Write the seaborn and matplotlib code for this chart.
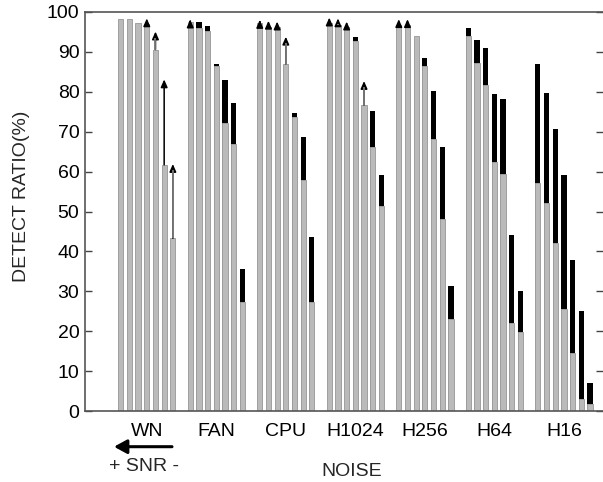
import numpy as np
import pandas as pd
import matplotlib
matplotlib.use("Agg")
import matplotlib.pyplot as plt
import seaborn as sns

# ---- data ----
groups = ["WN", "FAN", "CPU", "H1024", "H256", "H64", "H16"]
nan = np.nan

# gray (base) bar heights per group, 7 SNR levels each
gray_wn    = [98.2, 98.2, 97.3, 97.0, 90.6, 61.7, 43.3]
gray_fan   = [97.4, 96.1, 95.2, 86.5, 72.1, 66.9, 27.2]
gray_cpu   = [97.3, 96.3, 96.3, 87.0, 73.8, 57.9, 27.2]
gray_h1024 = [97.2, 96.7, 96.2, 92.8, 76.7, 66.2, 51.5]
gray_h256  = [96.7, 96.7, 94.1, 86.5, 68.1, 48.1, 23.1]
gray_h64   = [94.1, 87.1, 81.7, 62.3, 59.4, 22.0, 19.9]
gray_h16   = [57.1, 52.1, 42.0, 25.5, 14.5, 3.1, 1.8]

# top of black (stacked) segment; nan = no black segment
top_wn    = [nan, nan, nan, nan, nan, nan, nan]
top_fan   = [nan, 97.5, 96.5, 86.9, 83.0, 77.1, 35.5]
top_cpu   = [nan, nan, nan, nan, 74.6, 68.7, 43.7]
top_h1024 = [nan, nan, nan, 93.7, nan, 75.2, 59.1]
top_h256  = [nan, nan, nan, 88.5, 80.2, 66.2, 31.3]
top_h64   = [95.9, 93.0, 91.1, 79.4, 78.2, 44.1, 30.1]
top_h16   = [86.9, 79.6, 70.8, 59.1, 37.8, 25.1, 7.1]

# arrow target values; nan = no arrow
arr_wn    = [nan, nan, nan, 98.4, 95.1, 83.1, 61.9]
arr_fan   = [98.1, nan, nan, nan, nan, nan, nan]
arr_cpu   = [98.0, 97.8, 97.6, 93.8, nan, nan, nan]
arr_h1024 = [98.6, 98.4, 97.6, nan, 82.7, nan, nan]
arr_h256  = [98.2, 98.2, nan, nan, nan, nan, nan]
arr_h64   = [nan] * 7
arr_h16   = [nan] * 7

gray_all = [gray_wn, gray_fan, gray_cpu, gray_h1024, gray_h256, gray_h64, gray_h16]
top_all = [top_wn, top_fan, top_cpu, top_h1024, top_h256, top_h64, top_h16]
arr_all = [arr_wn, arr_fan, arr_cpu, arr_h1024, arr_h256, arr_h64, arr_h16]

rows = []
for g, name in enumerate(groups):
    for j in range(7):
        t = top_all[g][j]
        rows.append(dict(group=name, pos=g * 8 + j, gray=gray_all[g][j],
                         top=0.0 if np.isnan(t) else t, arrow=arr_all[g][j]))
df = pd.DataFrame(rows)

# ---- style ----
sns.set_theme(style="white")
plt.rcParams["font.family"] = ["Liberation Sans", "DejaVu Sans"]
FS = 14

W, H = 603, 482
fig = plt.figure(figsize=(W / 100, H / 100), dpi=100)
ax = fig.add_axes([85 / W, 1 - 411 / H, (W - 85) / W, (411 - 12) / H])

sns.barplot(data=df, x="pos", y="top", native_scale=True, width=0.6,
            color="black", edgecolor="black", linewidth=0, saturation=1,
            errorbar=None, ax=ax)
sns.barplot(data=df, x="pos", y="gray", native_scale=True, width=0.6,
            color="#bababa", edgecolor="#a0a0a0", linewidth=0.7, saturation=1,
            errorbar=None, ax=ax)

HEAD = 1.5  # head length in data units (approx, for shaft overlay)
for _, r in df.iterrows():
    if not np.isnan(r["arrow"]):
        ax.annotate("", xy=(r["pos"], r["arrow"]), xytext=(r["pos"], r["gray"]),
                    arrowprops=dict(arrowstyle="-|>,head_length=0.5,head_width=0.22",
                                    color="black", lw=1.1,
                                    shrinkA=0, shrinkB=0, mutation_scale=9),
                    zorder=5)
        black_shaft = (r["group"] == "WN" and r["pos"] == 5)
        if not black_shaft and r["arrow"] - HEAD > r["gray"]:
            ax.vlines(r["pos"], r["gray"], r["arrow"] - HEAD, color="#7a7a7a",
                      lw=1.3, zorder=6)

ax.set_xlim(-4.11, 55.5)
ax.set_ylim(0, 100)
ax.set_xticks([g * 8 + 3 for g in range(len(groups))])
ax.set_xticklabels(groups, fontsize=FS)
ax.set_yticks(range(0, 101, 10))
ax.set_yticklabels([str(v) for v in range(0, 101, 10)], fontsize=FS)
ax.set_xlabel("")
ax.set_ylabel("")
ax.tick_params(axis="x", length=0, pad=8.5, colors="black")
ax.tick_params(axis="y", direction="in", length=4.8, width=1, color="#444444",
               left=True, right=True, pad=4, labelcolor="black")
for s in ["left", "bottom", "top"]:
    ax.spines[s].set_visible(True)
    ax.spines[s].set_color("#555555")
    ax.spines[s].set_linewidth(1.2)
ax.spines["right"].set_visible(False)

fig.text(22 / W, 1 - 196 / H, "DETECT RATIO(%)", rotation=90, ha="center",
         va="center", fontsize=FS)
fig.text(352 / W, 1 - 471.7 / H, "NOISE", ha="center", va="center", fontsize=FS)
fig.text(144 / W, 1 - 466.7 / H, "+ SNR -", ha="center", va="center", fontsize=FS)
fig.patches.append(matplotlib.patches.FancyArrowPatch(
    (172 / W, 1 - 446.7 / H), (114 / W, 1 - 446.7 / H),
    transform=fig.transFigure, arrowstyle="-|>,head_length=0.55,head_width=0.3",
    mutation_scale=14, lw=2.2, color="black", shrinkA=0, shrinkB=0))

fig.savefig("out.png", dpi=100)
